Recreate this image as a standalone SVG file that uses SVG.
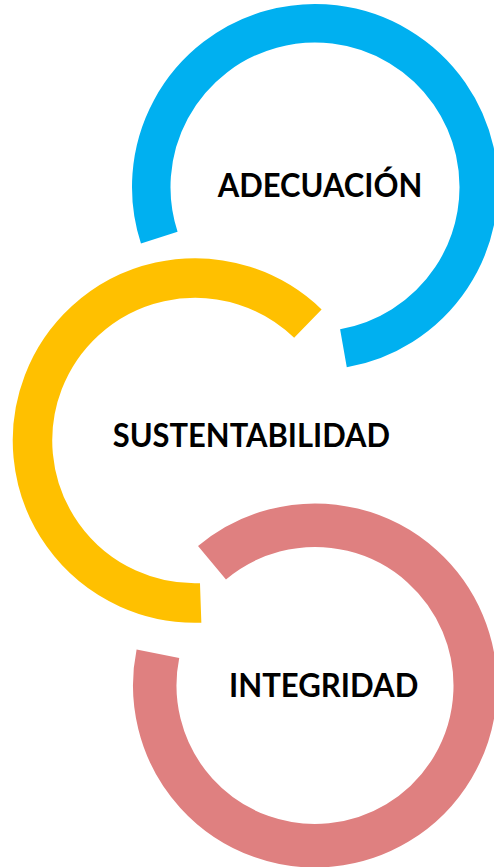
<svg xmlns="http://www.w3.org/2000/svg" width="494" height="867" viewBox="0 0 494 867">
<style>
.ring{fill:none;stroke-linecap:butt}
.lbl{font-family:Lato,"Open Sans","Liberation Sans",sans-serif;font-weight:700;font-size:32px;fill:#000}
</style>
<rect width="494" height="867" fill="#fff"/>
<g id="adecuacion">
<path class="ring" d="M159.27,237.60 A163.75,163.75 0 1 1 343.44,348.26" stroke="#00B0F0" stroke-width="38.5"/>
<text class="lbl" x="217.7" y="196.5" textLength="204.6" lengthAdjust="spacingAndGlyphs">ADECUACIÓN</text>
</g>
<g id="sustentabilidad">
<path class="ring" d="M200.67,602.90 A162.5,162.5 0 1 1 307.88,323.61" stroke="#FFC000" stroke-width="39.5"/>
<text class="lbl" x="112.7" y="447.3" textLength="277.3" lengthAdjust="spacingAndGlyphs">SUSTENTABILIDAD</text>
</g>
<g id="integridad">
<path class="ring" d="M211.99,562.74 A160.25,160.25 0 1 1 157.91,653.82" stroke="#DF8080" stroke-width="43.5"/>
<text class="lbl" x="229" y="696.7" textLength="189.3" lengthAdjust="spacingAndGlyphs">INTEGRIDAD</text>
</g>
<g id="connectors"/>
</svg>
